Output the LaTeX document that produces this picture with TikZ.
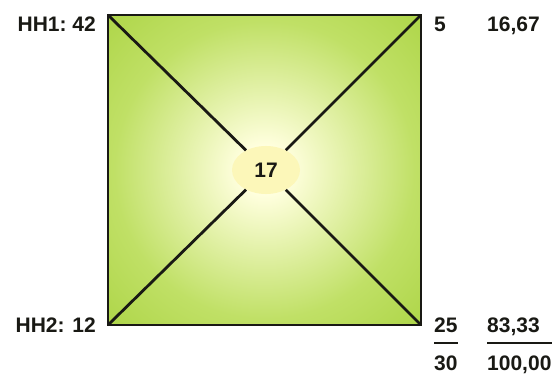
\documentclass[tikz,border=0pt]{standalone}
\usepackage{fontspec}
\setmainfont{Liberation Sans}
\usetikzlibrary{shapes.geometric}

\definecolor{glowpale}{RGB}{255,255,222}
\definecolor{glowmid}{RGB}{192,224,102}
\definecolor{glowgreen}{RGB}{158,204,46}
\definecolor{glowdark}{RGB}{142,192,32}
\definecolor{eyefill}{RGB}{252,247,185}
\definecolor{inkdark}{RGB}{25,25,20}
\pgfdeclareradialshading{squareglow}{\pgfpoint{0bp}{0bp}}{%
  color(0bp)=(glowpale); color(4bp)=(glowpale); color(24bp)=(glowmid);
  color(46bp)=(glowgreen); color(72bp)=(glowdark)}

\begin{document}
\begin{tikzpicture}[
    x=1pt, y=-1pt,
    label/.style={inner sep=0pt, text=inkdark,
                  font=\bfseries\fontsize{21}{25}\selectfont},
    diag/.style={draw=inkdark, line width=2.8pt},
    rule/.style={draw=inkdark, line width=2.8pt}
  ]
  \useasboundingbox (0,0) rectangle (556,374);

  % green field
  \node[draw=inkdark, line width=2.8pt, shade, shading=squareglow,
        minimum width=313pt, minimum height=310pt, inner sep=0pt,
        outer sep=0pt] (field) at (264.5,170) {};

  % centre value
  \node[ellipse, fill=eyefill, minimum width=68pt, minimum height=48pt,
        inner sep=0pt, label] (mid) at (266,170) {17};

  \draw[diag] (field.north west) -- (mid);
  \draw[diag] (field.north east) -- (mid);
  \draw[diag] (field.south west) -- (mid);
  \draw[diag] (field.south east) -- (mid);

  % left labels
  \node[label, anchor=base east] (hh1) at (96,32) {HH1:\ 42};
  \node[label, anchor=base east] (hh2) at (96,332) {HH2: 12};

  % right columns
  \node[label, anchor=base west] (v5)  at (434,32)  {5};
  \node[label, anchor=base west] (v25) at (434,332) {25};
  \node[label, anchor=base west] (v30) at (434,370) {30};
  \node[label, anchor=base west] (p1)   at (487,32)  {16,67};
  \node[label, anchor=base west] (p2)   at (487,332) {83,33};
  \node[label, anchor=base west] (psum) at (487,370) {100,00};

  \draw[rule] ([yshift=-11pt]v25.base west) -- ([yshift=-11pt]v25.base east);
  \draw[rule] ([yshift=-11pt]p2.base west)
           -- ([yshift=-11pt]p2.base west -| psum.east);
\end{tikzpicture}
\end{document}
